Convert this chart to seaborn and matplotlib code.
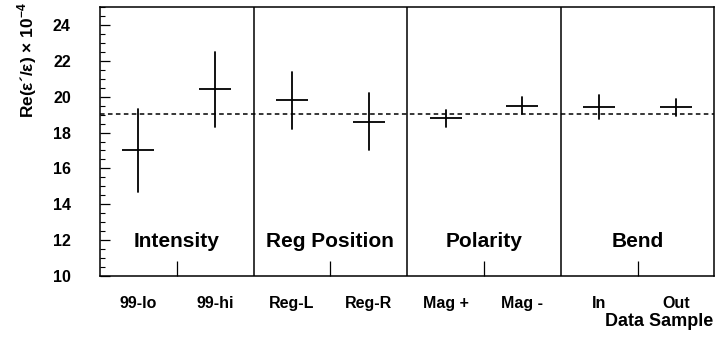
import numpy as np
import pandas as pd
import matplotlib
matplotlib.use("Agg")
import matplotlib.pyplot as plt
from matplotlib.ticker import MultipleLocator
import seaborn as sns

# Measured Re(eps'/eps) per data subsample, in units of 1e-4
samples = ["99-lo", "99-hi", "Reg-L", "Reg-R", "Mag +", "Mag -", "In", "Out"]
central = [17.0, 20.4, 19.8, 18.6, 18.8, 19.5, 19.4, 19.4]
errors = [2.3, 2.1, 1.6, 1.6, 0.48, 0.46, 0.67, 0.48]
groups = ["Intensity", "Reg Position", "Polarity", "Bend"]
combined = 19.05

sns.set_theme(style="ticks")
plt.rcParams["font.family"] = ["Liberation Sans", "DejaVu Sans"]
plt.rcParams["font.weight"] = "bold"
plt.rcParams["mathtext.fontset"] = "custom"
plt.rcParams["mathtext.rm"] = "Liberation Sans:bold"
plt.rcParams["mathtext.bf"] = "Liberation Sans:bold"
for key in ["text.color", "axes.labelcolor", "xtick.color", "ytick.color",
            "axes.edgecolor"]:
    plt.rcParams[key] = "black"

# Each sample enters as its lower and upper edge; the mean is the central value
# and the min/max span is the error bar.
rows = []
for s, c, e in zip(samples, central, errors):
    rows.append({"sample": s, "value": c - e})
    rows.append({"sample": s, "value": c + e})
df = pd.DataFrame(rows)

fig = plt.figure(figsize=(7.15, 3.41), dpi=100)
ax = fig.add_axes([100 / 715, 65 / 341, 614.3 / 715, 269 / 341])

sns.pointplot(
    data=df, x="sample", y="value", order=samples,
    estimator="mean", errorbar=lambda v: (v.min(), v.max()),
    color="black", marker="_", markersize=22.5, markeredgewidth=1.3,
    linestyle="none", err_kws={"linewidth": 1.3}, ax=ax,
)

ax.set_xlim(-0.5, len(samples) - 0.5)
ax.set_ylim(10, 25)

# Combined result
ax.axhline(combined, color="black", lw=1.1, dashes=(3.0, 2.2), zorder=1)

# Group separators and group titles
for i in range(1, len(groups)):
    ax.axvline(2 * i - 0.5, color="black", lw=1.1)
for i, g in enumerate(groups):
    ax.text(2 * i + 0.5, 11.6, g, ha="center", va="baseline",
            fontsize=15, fontweight="bold", color="black")

# Axis ticks
ax.set_xticks([2 * i + 0.5 for i in range(len(groups))])
ax.set_xticklabels([])
ax.set_xticks(range(len(samples)), samples, minor=True)
ax.tick_params(axis="x", which="major", direction="in", length=11, width=0.9,
               bottom=True, top=False)
ax.tick_params(axis="x", which="minor", length=0, pad=14.5, labelsize=11.5)
ax.set_yticks(np.arange(10, 25, 2))
ax.yaxis.set_minor_locator(MultipleLocator(0.5))
ax.tick_params(axis="y", which="major", direction="in", length=7, width=0.9,
               pad=21, labelsize=11.5)
ax.tick_params(axis="y", which="minor", direction="in", length=3.5, width=0.8)
for lab in ax.get_xticklabels(minor=True) + ax.get_yticklabels():
    lab.set_fontweight("bold")

for sp in ax.spines.values():
    sp.set_visible(True)
    sp.set_color("black")
    sp.set_linewidth(1.1)

ax.set_xlabel("")
ax.set_ylabel("")
fig.text(27 / 715, 1 - 60 / 341, "Re(ε´/ε) × 10$^{-4}$", rotation=90,
         ha="center", va="center", fontsize=12.5, fontweight="bold")
fig.text(713 / 715, 20 / 341, "Data Sample", ha="right", va="center",
         fontsize=13, fontweight="bold")

fig.savefig("out.png", dpi=100)
